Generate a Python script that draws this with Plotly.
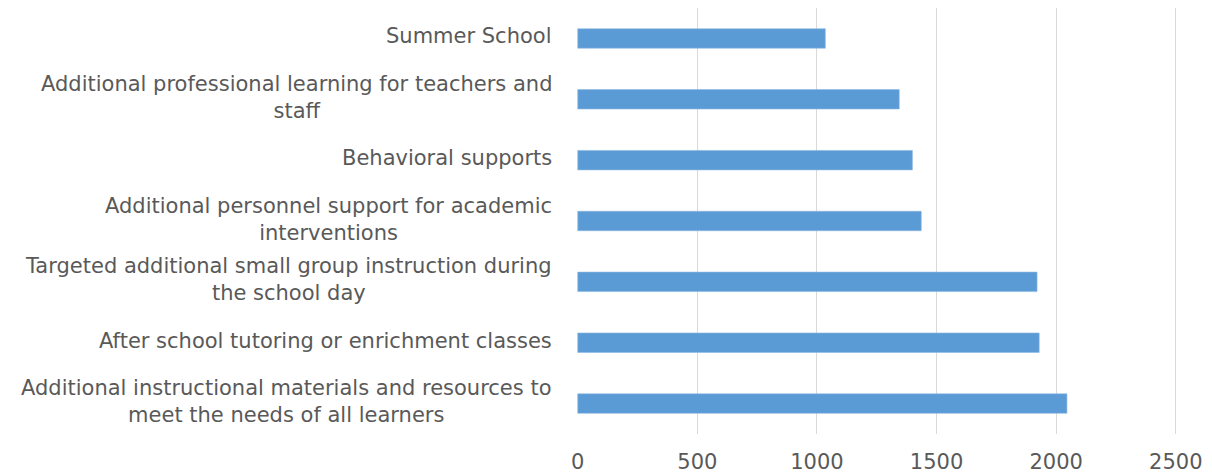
import plotly.graph_objects as go

categories = [
    "Additional instructional materials and resources to<br>meet the needs of all learners",
    "After school tutoring or enrichment classes",
    "Targeted additional small group instruction during<br>the school day",
    "Additional personnel support for academic<br>interventions",
    "Behavioral supports",
    "Additional professional learning for teachers and<br>staff",
    "Summer School",
]
values = [2045, 1929, 1920, 1436, 1399, 1344, 1035]
x_ticks = [0, 500, 1000, 1500, 2000, 2500]

TEXT = "#595959"
FONT = "DejaVu Sans"

fig = go.Figure(
    go.Bar(
        x=values,
        y=categories,
        orientation="h",
        marker=dict(color="#5B9BD5", line=dict(color="#8DB9E3", width=0.6)),
        width=0.32,
    )
)

for cat in categories:
    fig.add_annotation(
        x=0, xref="paper", y=cat, yref="y",
        text=cat, showarrow=False,
        xanchor="right", yanchor="middle", align="center",
        xshift=-23, yshift=2,
        font=dict(family=FONT, size=21, color=TEXT),
    )

# page body adds an 8px offset; figure sized to fit the 1212x474 window
fig.update_layout(
    width=1204, height=466,
    margin=dict(l=569, r=35, t=0, b=40),
    paper_bgcolor="white", plot_bgcolor="white",
    showlegend=False,
)
fig.update_xaxes(
    range=[-3, 2505], tickvals=x_ticks, ticktext=[str(v) for v in x_ticks],
    showgrid=True, gridcolor="#D9D9D9", gridwidth=1,
    zeroline=False, showline=False, automargin=False,
    ticks="outside", ticklen=9, tickcolor="rgba(0,0,0,0)",
    tickfont=dict(family=FONT, size=21, color=TEXT),
)
fig.update_yaxes(
    categoryorder="array", categoryarray=categories,
    showticklabels=False, showgrid=False, zeroline=False, showline=False,
    automargin=False, range=[-0.5, 6.5],
)

fig.write_html("out.html")
